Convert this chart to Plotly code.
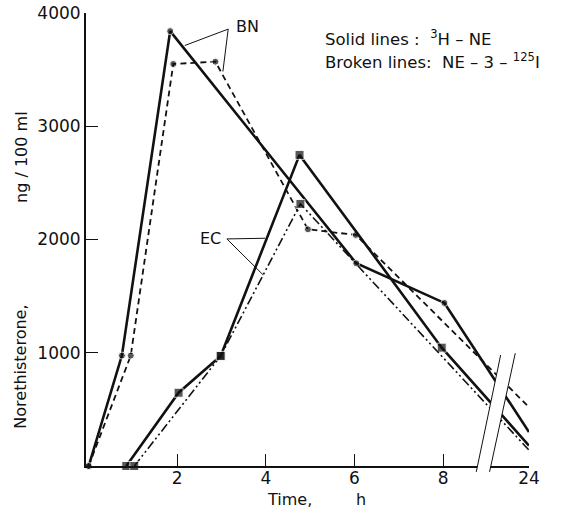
import plotly.graph_objects as go

# ---------------- data ----------------
# Time in hours; the 24 h point sits after an axis break
BN_SOLID_T = [0, 0.75, 1.84, 6.04, 8.03, 24]
BN_SOLID_V = [0, 975, 3840, 1790, 1440, 300]

BN_BROKEN_T = [0, 0.95, 1.91, 2.86, 4.95, 6.03, 24]
BN_BROKEN_V = [0, 975, 3550, 3570, 2090, 2040, 520]

EC_SOLID_T = [0.85, 2.03, 2.98, 4.76, 7.97, 24]
EC_SOLID_V = [0, 647, 972, 2747, 1045, 180]

EC_BROKEN_T = [1.03, 2.98, 4.78, 24]
EC_BROKEN_V = [0, 972, 2314, 140]

X_TICK_VALUES = [2, 4, 6, 8, 24]
X_TICK_LABELS = ["2", "4", "6", "8", "24"]
Y_TICK_VALUES = [1000, 2000, 3000, 4000]

# broken time axis: everything after 9 h is drawn at the "24" position
BREAK_POS = 9.94


def axis_x(t):
    return t if t <= 9 else BREAK_POS


FONT = "DejaVu Sans"
BLACK = "#111111"


def marker_sizes(ts, size):
    return [size if t <= 9 else 0 for t in ts]


fig = go.Figure()

fig.add_trace(go.Scatter(
    x=[axis_x(t) for t in BN_SOLID_T], y=BN_SOLID_V, mode="lines+markers",
    line=dict(color=BLACK, width=2.6),
    marker=dict(symbol="circle", size=marker_sizes(BN_SOLID_T, 7), color=BLACK),
    cliponaxis=False, showlegend=False))

fig.add_trace(go.Scatter(
    x=[axis_x(t) for t in BN_BROKEN_T], y=BN_BROKEN_V, mode="lines+markers",
    line=dict(color=BLACK, width=1.8, dash="6px,4px"),
    marker=dict(symbol="circle", size=marker_sizes(BN_BROKEN_T, 7), color=BLACK),
    cliponaxis=False, showlegend=False))

fig.add_trace(go.Scatter(
    x=[axis_x(t) for t in EC_SOLID_T], y=EC_SOLID_V, mode="lines+markers",
    line=dict(color=BLACK, width=2.6),
    marker=dict(symbol="square", size=marker_sizes(EC_SOLID_T, 9), color=BLACK),
    cliponaxis=False, showlegend=False))

fig.add_trace(go.Scatter(
    x=[axis_x(t) for t in EC_BROKEN_T], y=EC_BROKEN_V, mode="lines+markers",
    line=dict(color=BLACK, width=1.6, dash="9px,3px,2px,3px,2px,3px"),
    marker=dict(symbol="square", size=marker_sizes(EC_BROKEN_T, 9), color=BLACK),
    cliponaxis=False, showlegend=False))

shapes = []
# axis break: white band with two slanted edges (x in data, y in paper units)
shapes.append(dict(type="path", xref="x", yref="paper",
                   path="M 8.75,-0.013 L 9.30,0.245 L 9.63,0.249 L 9.05,-0.013 Z",
                   fillcolor="white", line=dict(width=0), layer="above"))
shapes.append(dict(type="line", xref="x", yref="paper", x0=8.75, y0=-0.013, x1=9.30, y1=0.245,
                   line=dict(color=BLACK, width=1), layer="above"))
shapes.append(dict(type="line", xref="x", yref="paper", x0=9.05, y0=-0.013, x1=9.63, y1=0.249,
                   line=dict(color=BLACK, width=1), layer="above"))
# callout lines for labels
for (x0, y0, x1, y1) in [(3.15, 3858, 2.17, 3713), (3.15, 3858, 3.03, 3483),
                         (3.12, 2005, 3.98, 2011), (3.12, 2005, 3.94, 1687)]:
    shapes.append(dict(type="line", xref="x", yref="y", x0=x0, y0=y0, x1=x1, y1=y1,
                       line=dict(color=BLACK, width=1)))


def ann(text, x, y, xref="paper", yref="paper", size=16, angle=0, xanchor="center"):
    return dict(text=text, x=x, y=y, xref=xref, yref=yref, showarrow=False,
                xanchor=xanchor, yanchor="middle", textangle=angle,
                font=dict(size=size, family=FONT, color=BLACK))


annotations = [
    ann("BN", 3.59, 3878, xref="x", yref="y", size=16),
    ann("EC", 2.75, 2005, xref="x", yref="y", size=16),
    ann("Solid lines :  <sup>3</sup>H \u2013 NE", 0.535, 0.945, size=16.5, xanchor="left"),
    ann("Broken lines:  NE \u2013 3 \u2013 <sup>125</sup>I", 0.535, 0.893, size=16.5, xanchor="left"),
    ann("ng / 100 ml", -0.147, 0.682, size=16, angle=-90),
    ann("Norethisterone,", -0.147, 0.219, size=16, angle=-90),
    ann("Time,", 0.46, -0.075, size=16),
    ann("h", 0.621, -0.075, size=16),
]

fig.update_layout(
    width=567, height=512,
    margin=dict(l=86, r=38, t=13, b=46, autoexpand=False),
    paper_bgcolor="white", plot_bgcolor="white",
    shapes=shapes, annotations=annotations,
    font=dict(family=FONT, size=16, color=BLACK),
)
fig.update_xaxes(
    range=[-0.06, BREAK_POS], showgrid=False, zeroline=False, automargin=False,
    showline=True, linecolor=BLACK, linewidth=2,
    ticks="inside", ticklen=12, tickwidth=1.2, tickcolor=BLACK,
    tickvals=[axis_x(t) for t in X_TICK_VALUES], ticktext=X_TICK_LABELS,
    tickfont=dict(size=17, family=FONT, color=BLACK), ticklabelstandoff=-4,
)
fig.update_yaxes(
    range=[0, 4000], showgrid=False, zeroline=False, automargin=False,
    showline=True, linecolor=BLACK, linewidth=2,
    ticks="inside", ticklen=12, tickwidth=1.2, tickcolor=BLACK,
    tickvals=Y_TICK_VALUES, ticktext=[str(v) for v in Y_TICK_VALUES],
    tickfont=dict(size=17, family=FONT, color=BLACK),
)

fig.write_html("out.html", config={"displayModeBar": False},
               post_script="document.body.style.margin='0';document.body.style.padding='0';")
